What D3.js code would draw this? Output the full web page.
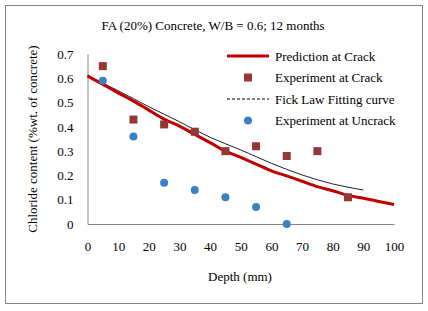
<!DOCTYPE html>
<html>
<head>
<meta charset="utf-8">
<script src="https://cdn.jsdelivr.net/npm/d3@7"></script>
<style>
  body { margin: 0; background: #fff; }
  text { font-family: "Liberation Serif", "Times New Roman", serif; }
</style>
</head>
<body>
<svg id="chart"></svg>
<script>
const width = 428;
const height = 311;

// --- Data ---
const depthTicks = [0, 10, 20, 30, 40, 50, 60, 70, 80, 90, 100];
const chlorideTicks = [0, 0.1, 0.2, 0.3, 0.4, 0.5, 0.6, 0.7];

const predDepth = [0, 5, 10, 15, 20, 25, 30, 35, 40, 45, 50, 55, 60, 65, 70, 75, 80, 85, 90, 95, 100];
const predValue = [0.61, 0.575, 0.54, 0.506, 0.469, 0.432, 0.403, 0.369, 0.335, 0.30, 0.274, 0.247, 0.219, 0.198, 0.176, 0.154, 0.137, 0.118, 0.106, 0.093, 0.08];

const fickDepth = [0, 10, 20, 30, 40, 50, 60, 70, 80, 90];
const fickValue = [0.61, 0.549, 0.483, 0.421, 0.357, 0.305, 0.25, 0.202, 0.165, 0.14];

const crackDepth = [5, 15, 25, 35, 45, 55, 65, 75, 85];
const crackValue = [0.65, 0.43, 0.41, 0.38, 0.30, 0.32, 0.28, 0.30, 0.11];

const uncrackDepth = [5, 15, 25, 35, 45, 55, 65];
const uncrackValue = [0.59, 0.36, 0.17, 0.14, 0.11, 0.07, 0.0];

const svg = d3.select("#chart")
  .attr("width", width)
  .attr("height", height);

// outer chart border
svg.append("rect")
  .attr("x", 5.5).attr("y", 5.5)
  .attr("width", 417).attr("height", 298)
  .attr("fill", "#fff")
  .attr("stroke", "#868686");

const x = d3.scaleLinear().domain([0, 100]).range([87.5, 394]);
const y = d3.scaleLinear().domain([0, 0.7]).range([224, 54]);

// --- Axes ---
const gx = svg.append("g").attr("transform", `translate(0, ${y(0)})`)
  .call(d3.axisBottom(x).tickValues(depthTicks).tickSize(0).tickPadding(18));
gx.select(".domain").attr("stroke", "#868686");
gx.selectAll("text").attr("font-size", 13).attr("fill", "#000")
  .style("font-family", "Liberation Serif");

const gy = svg.append("g").attr("transform", `translate(${x(0)}, 0)`)
  .call(d3.axisLeft(y).tickValues(chlorideTicks).tickSize(0).tickPadding(14)
    .tickFormat(d => d === 0 ? "0" : d3.format(".1f")(d)));
gy.select(".domain").attr("stroke", "#868686");
gy.selectAll("text").attr("font-size", 13).attr("fill", "#000")
  .style("font-family", "Liberation Serif");

// --- Titles ---
svg.append("text")
  .attr("x", 213).attr("y", 30)
  .attr("text-anchor", "middle")
  .attr("font-size", 13)
  .text("FA (20%) Concrete, W/B = 0.6; 12 months");

svg.append("text")
  .attr("x", 240).attr("y", 281)
  .attr("text-anchor", "middle")
  .attr("font-size", 13)
  .text("Depth (mm)");

svg.append("text")
  .attr("transform", "translate(37, 139) rotate(-90)")
  .attr("text-anchor", "middle")
  .attr("font-size", 13)
  .text("Chloride content (%wt. of concrete)");

// --- Lines ---
const line = d3.line().curve(d3.curveMonotoneX).x(d => x(d[0])).y(d => y(d[1]));

svg.append("path")
  .datum(d3.zip(fickDepth, fickValue))
  .attr("d", line)
  .attr("fill", "none")
  .attr("stroke", "#222")
  .attr("stroke-width", 1);

svg.append("path")
  .datum(d3.zip(predDepth, predValue))
  .attr("d", line)
  .attr("fill", "none")
  .attr("stroke", "#c00000")
  .attr("stroke-width", 3);

// --- Points ---
svg.append("g").selectAll("rect")
  .data(d3.zip(crackDepth, crackValue))
  .join("rect")
  .attr("x", d => x(d[0]) - 4)
  .attr("y", d => y(d[1]) - 4)
  .attr("width", 8).attr("height", 8)
  .attr("fill", "#953735");

svg.append("g").selectAll("circle")
  .data(d3.zip(uncrackDepth, uncrackValue))
  .join("circle")
  .attr("cx", d => x(d[0]))
  .attr("cy", d => y(d[1]))
  .attr("r", 4)
  .attr("fill", "#3d7fc4");

// --- Legend ---
const gLegend = svg.append("g").attr("transform", "translate(227, 56)");
const rowH = 21.5;

gLegend.append("line")
  .attr("x1", 0).attr("x2", 42).attr("y1", 0).attr("y2", 0)
  .attr("stroke", "#c00000").attr("stroke-width", 3);
gLegend.append("rect")
  .attr("x", 17).attr("y", rowH - 4).attr("width", 8).attr("height", 8)
  .attr("fill", "#953735");
gLegend.append("line")
  .attr("x1", 0).attr("x2", 42).attr("y1", rowH * 2).attr("y2", rowH * 2)
  .attr("stroke", "#000").attr("stroke-width", 1)
  .attr("stroke-dasharray", "3,2");
gLegend.append("circle")
  .attr("cx", 21).attr("cy", rowH * 3).attr("r", 4)
  .attr("fill", "#3d7fc4");

const legendLabels = ["Prediction at Crack", "Experiment at Crack", "Fick Law Fitting curve", "Experiment at Uncrack"];
gLegend.selectAll("text.lbl")
  .data(legendLabels)
  .join("text")
  .attr("class", "lbl")
  .attr("x", 48)
  .attr("y", (d, i) => i * rowH + 4.5)
  .attr("font-size", 13)
  .text(d => d);
</script>
</body>
</html>
